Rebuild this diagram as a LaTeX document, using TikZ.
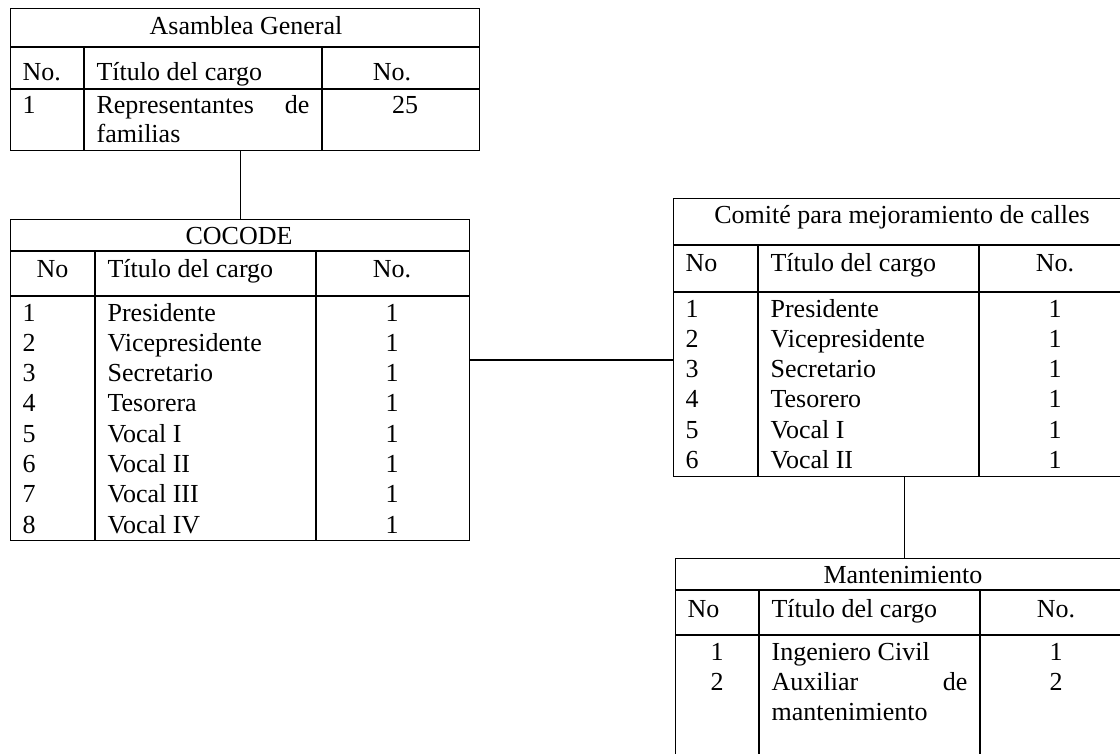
\documentclass[tikz,border=0pt]{standalone}
\usepackage{fontspec}
\setmainfont{Liberation Serif}
\begin{document}
\begin{tikzpicture}[x=1pt,y=-1pt, line width=1.2pt,
  tbl/.style={draw, rectangle, inner sep=0pt, anchor=north west},
  txt/.style={inner sep=0pt, font=\fontsize{26}{30}\selectfont},
  L/.style={txt, anchor=base west},
  C/.style={txt, anchor=base},
  R/.style={txt, anchor=base east},
  link/.style={draw, line width=1.2pt}]
\useasboundingbox (0,0) rectangle (1120,753);
\clip (0,0) rectangle (1120,753);

% ---------- Asamblea General ----------
\node[tbl, minimum width=469pt, minimum height=142pt] (asam) at (10,8) {};
\draw (10,47) -- (479,47);
\draw (10,89) -- (479,89);
\draw (84,47) -- (84,150);
\draw (322,47) -- (322,150);
\node[C] (aT) at (246,34) {Asamblea General};
\node[L] (aH1) at (22,80) {No.};
\node[L] (aH2) at (96,80) {Título del cargo};
\node[C] (aH3) at (392,80) {No.};
\node[L] (aR1) at (22,113) {1};
\node[L] (aR2) at (96,113) {Representantes};
\node[R] (aR3) at (310,113) {de};
\node[L] (aR4) at (96,142) {familias};
\node[C] (aR5) at (405,113) {25};

% ---------- COCODE ----------
\node[tbl, minimum width=459pt, minimum height=321pt] (cocode) at (10,219) {};
\draw (10,251) -- (469,251);
\draw (10,296) -- (469,296);
\draw (95,251) -- (95,540);
\draw (316,251) -- (316,540);
\node[C] (cT) at (239,244) {COCODE};
\node[C] (cH1) at (52.5,277) {No};
\node[L] (cH2) at (107,277) {Título del cargo};
\node[C] (cH3) at (392,277) {No.};
\foreach \n/\t [count=\k from 0] in {1/Presidente,2/Vicepresidente,3/Secretario,4/Tesorera,5/Vocal I,6/Vocal II,7/Vocal III,8/Vocal IV}{
  \node[L] (cn\n) at (22,321+30.3*\k) {\n};
  \node[L] (ct\n) at (107,321+30.3*\k) {\t};
  \node[C] (cv\n) at (392,321+30.3*\k) {1};
}

% ---------- Comite ----------
\node[tbl, minimum width=458pt, minimum height=278pt] (comite) at (673,198) {};
\draw (673,245) -- (1131,245);
\draw (673,292) -- (1131,292);
\draw (758,245) -- (758,476);
\draw (979,245) -- (979,476);
\node[C] (mT) at (902,223) {Comité para mejoramiento de calles};
\node[L] (mH1) at (685,271) {No};
\node[L] (mH2) at (770,271) {Título del cargo};
\node[C] (mH3) at (1055,271) {No.};
\foreach \n/\t [count=\k from 0] in {1/Presidente,2/Vicepresidente,3/Secretario,4/Tesorero,5/Vocal I,6/Vocal II}{
  \node[L] (mn\n) at (685,317+30.3*\k) {\n};
  \node[L] (mt\n) at (770,317+30.3*\k) {\t};
  \node[C] (mv\n) at (1055,317+30.3*\k) {1};
}

% ---------- Mantenimiento ----------
\node[tbl, minimum width=457pt, minimum height=210pt] (mant) at (675,558) {};
\draw (675,590) -- (1132,590);
\draw (675,635) -- (1132,635);
\draw (759,590) -- (759,768);
\draw (980,590) -- (980,768);
\node[C] (nT) at (903,583) {Mantenimiento};
\node[L] (nH1) at (687,617) {No};
\node[L] (nH2) at (771,617) {Título del cargo};
\node[C] (nH3) at (1056,617) {No.};
\node[C] (nn1) at (717,660) {1};
\node[L] (nt1) at (771,660) {Ingeniero Civil};
\node[C] (nv1) at (1056,660) {1};
\node[C] (nn2) at (717,690) {2};
\node[L] (nt2a) at (771,690) {Auxiliar};
\node[R] (nt2b) at (968,690) {de};
\node[L] (nt2c) at (771,720) {mantenimiento};
\node[C] (nv2) at (1056,690) {2};

% ---------- connectors ----------
\coordinate (j1) at (570,360);
\draw[link] (cocode.north) -- (cocode.north |- asam.south);
\draw[link] (cocode.east |- j1) -- (comite.west |- j1);
\draw[link] (mant.north) -- (mant.north |- comite.south);
\end{tikzpicture}
\end{document}
